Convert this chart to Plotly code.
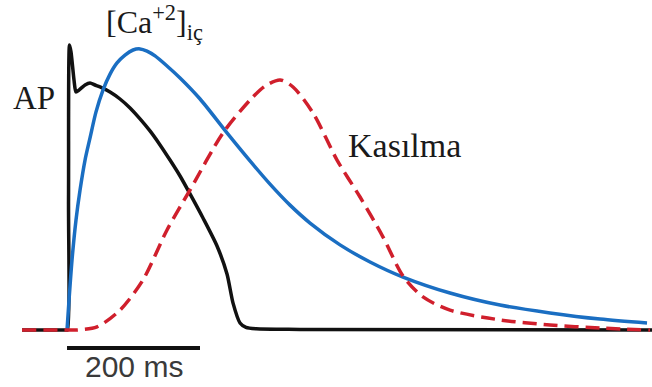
import plotly.graph_objects as go

# Time axis in ms, amplitudes in % of each trace's normalised peak
ap_t = [-67.7, -10.5, -1.5, 0.75, 2.26, 3.76, 6.02, 10.5, 13.5, 18.0, 27.1, 34.6, 42.1,
        49.6, 64.7, 79.7, 94.8, 109.8, 124.8, 139.9, 154.9, 170.0, 185.0, 204.5, 225.6,
        240.6, 249.7, 260.2, 269.2, 284.3, 350.4, 880]
ap_v = [0, 0, 0, 0, 46.4, 101.8, 99.3, 89.3, 85.0, 85.7, 87.5, 88.2, 87.5,
        86.8, 85.0, 82.5, 79.3, 75.4, 71.1, 66.1, 60.7, 55.0, 48.6, 40.0, 30.0,
        20.0, 9.6, 2.5, 0.9, 0.4, 0.2, 0]

ca_t = [0, 3.0, 7.5, 13.5, 19.6, 27.1, 34.6, 43.6, 54.1, 64.7, 75.2, 87.2, 99.3, 109.8,
        120.3, 132.4, 150.4, 170.0, 200.1, 240.6, 275.2, 305.3, 335.4, 365.5, 410.6,
        455.7, 505.3, 576.0, 651.2, 726.4, 801.6, 872.3]
ca_v = [0, 10.7, 25.0, 39.3, 50.0, 60.7, 68.6, 77.9, 85.7, 91.4, 95.4, 98.2, 100.0, 100.4,
        99.6, 97.9, 94.3, 90.0, 82.5, 70.4, 60.4, 52.1, 44.6, 38.2, 30.4,
        24.3, 18.9, 13.2, 8.9, 6.1, 3.9, 2.5]

force_t = [-67.7, 0, 15.0, 45.1, 79.7, 114.3, 150.4, 185.0, 234.6, 275.2, 297.8, 320.4,
           339.9, 370.0, 406.1, 440.7, 475.3, 505.3, 535.4, 576.0, 651.2, 726.4, 801.6, 876.8]
force_v = [0, 0, 0, 1.1, 7.1, 17.9, 35.7, 50.0, 70.4, 82.1, 87.1, 89.3,
           86.8, 77.5, 60.7, 47.5, 33.2, 19.3, 11.8, 7.1, 3.6, 1.8, 0.7, 0]

scale_ms = 200
scale_label = f"{scale_ms} ms"

fig = go.Figure()
fig.add_trace(go.Scatter(x=ap_t, y=ap_v, mode="lines",
                         line=dict(color="#111111", width=3.5, shape="spline", smoothing=0.7)))
fig.add_trace(go.Scatter(x=ca_t, y=ca_v, mode="lines",
                         line=dict(color="#1a6ec2", width=3.5, shape="spline", smoothing=0.8)))
fig.add_trace(go.Scatter(x=force_t, y=force_v, mode="lines",
                         line=dict(color="#d01f2c", width=3.5, dash="14px,7px",
                                   shape="spline", smoothing=0.8)))

# time scale bar
fig.add_shape(type="line", x0=0, x1=scale_ms, y0=-6.4, y1=-6.4,
              line=dict(color="#111111", width=4))

serif = "Liberation Serif"
fig.add_annotation(x=-49.6, y=83, text="AP", showarrow=False, xanchor="center", yanchor="middle",
                   font=dict(family=serif, size=33, color="#1a1a1a"))
fig.add_annotation(x=55.6, y=110, text="[Ca<sup>+2</sup>]<sub>iç</sub>", showarrow=False,
                   xanchor="left", yanchor="middle",
                   font=dict(family=serif, size=32, color="#1a1a1a"))
fig.add_annotation(x=508, y=66, text="Kasılma", showarrow=False, xanchor="center", yanchor="middle",
                   font=dict(family=serif, size=34, color="#1a1a1a"))
fig.add_annotation(x=scale_ms / 2, y=-13, text=scale_label, showarrow=False,
                   xanchor="center", yanchor="middle",
                   font=dict(family="Liberation Sans", size=30, color="#3a3a3a"))

fig.update_layout(
    width=652, height=387, margin=dict(l=0, r=0, t=0, b=0),
    paper_bgcolor="white", plot_bgcolor="white", showlegend=False,
    xaxis=dict(range=[-100.8, 879.8], visible=False),
    yaxis=dict(range=[-20.36, 117.86], visible=False),
)
fig.write_html("out.html")
